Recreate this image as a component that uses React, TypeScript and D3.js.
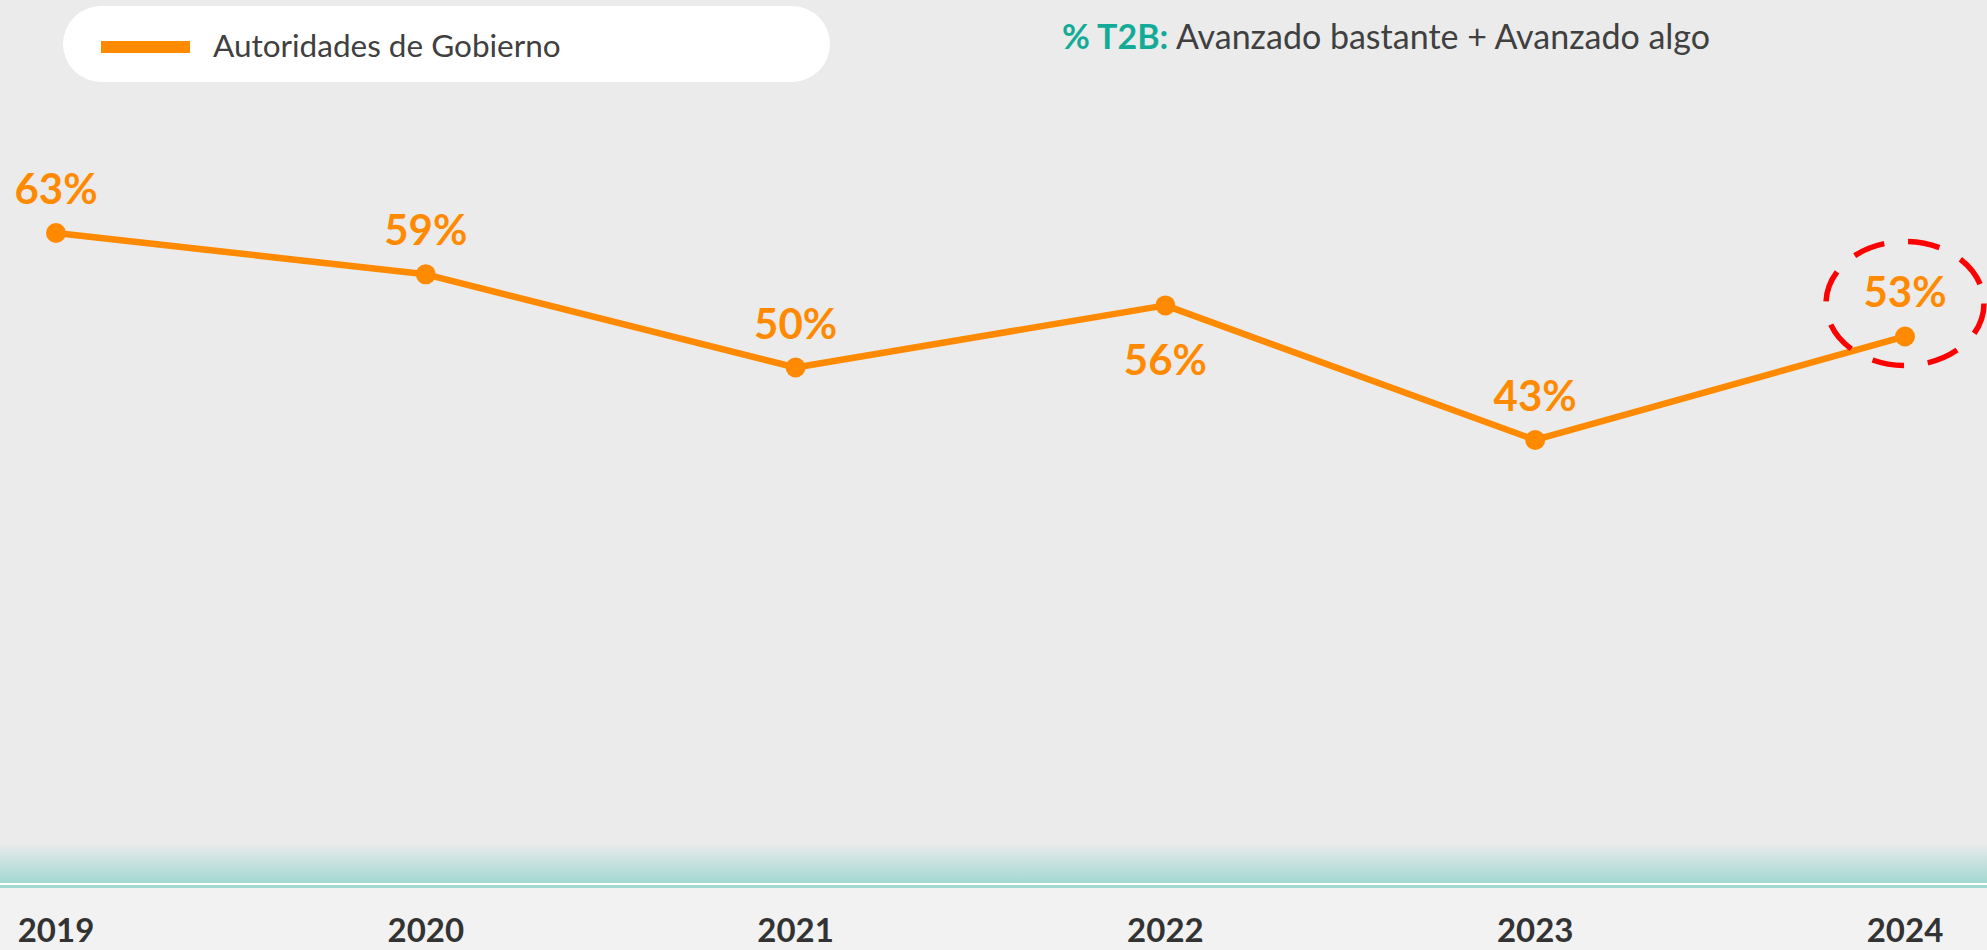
import React from 'react';
import * as d3 from 'd3';

const years = ['2019', '2020', '2021', '2022', '2023', '2024'];
const values = [63, 59, 50, 56, 43, 53];
// label placement: above or below the point
const labelPos = ['above', 'above', 'above', 'below', 'above', 'above'];
const seriesName = 'Autoridades de Gobierno';
const highlightYear = '2024';

const W = 1987;
const H = 950;
const ORANGE = '#FF8A00';
const FONT = 'Lato, "Open Sans", sans-serif';

const App = () => {
  const x = d3.scalePoint<string>().domain(years).range([56, 1905]);
  const y = d3.scaleLinear().domain([0, 100]).range([885, -150]);

  const line = d3
    .line<number>()
    .x((_, i) => x(years[i]) as number)
    .y((d) => y(d));

  const hx = x(highlightYear) as number;
  const hy = y(values[years.indexOf(highlightYear)]);

  return (
    <svg width={W} height={H} style={{ position: 'fixed', left: 0, top: 0 }}>
      <defs>
        <linearGradient id="floor" x1="0" y1="0" x2="0" y2="1">
          <stop offset="0%" stopColor="#ebebeb" />
          <stop offset="100%" stopColor="#a2d8d2" />
        </linearGradient>
      </defs>
      {/* background */}
      <rect width={W} height={H} fill="#ebebeb" />
      <rect x={0} y={843} width={W} height={40} fill="url(#floor)" />
      <rect x={0} y={883} width={W} height={2} fill="#ffffff" />
      <rect x={0} y={885} width={W} height={3} fill="#a2d8d2" />
      <rect x={0} y={888} width={W} height={H - 888} fill="#f2f2f2" />

      {/* legend */}
      <rect x={63} y={6} width={767} height={76} rx={38} fill="#ffffff" />
      <rect x={101} y={41} width={89} height={12} fill={ORANGE} />
      <text x={213} y={57} fontFamily={FONT} fontSize={31.5} fill="#404040">
        {seriesName}
      </text>

      {/* note */}
      <text x={1062} y={49} fontFamily={FONT} fontSize={34} fill="#404040">
        <tspan fill="#13ab98" fontWeight="bold">% T2B:</tspan>
        <tspan> Avanzado bastante + Avanzado algo</tspan>
      </text>

      {/* line */}
      <path d={line(values) ?? ''} fill="none" stroke={ORANGE} strokeWidth={6.5} strokeLinejoin="round" />
      {values.map((v, i) => (
        <circle key={years[i]} cx={x(years[i])} cy={y(v)} r={10} fill={ORANGE} />
      ))}
      {values.map((v, i) => (
        <text
          key={'l' + years[i]}
          x={x(years[i])}
          y={labelPos[i] === 'above' ? y(v) - 29 : y(v) + 70}
          textAnchor="middle"
          fontFamily={FONT}
          fontWeight="bold"
          fontSize={42}
          fill={ORANGE}
        >
          {v}%
        </text>
      ))}

      {/* highlight */}
      <ellipse
        cx={hx}
        cy={hy - 33}
        rx={79}
        ry={62}
        fill="none"
        stroke="#ff0000"
        strokeWidth={5.5}
        strokeDasharray="32 24"
      />

      {/* x axis labels */}
      {years.map((yr) => (
        <text
          key={'x' + yr}
          x={x(yr)}
          y={942}
          textAnchor="middle"
          fontFamily={FONT}
          fontWeight="bold"
          fontSize={33}
          fill="#333333"
        >
          {yr}
        </text>
      ))}
    </svg>
  );
};

export default App;
